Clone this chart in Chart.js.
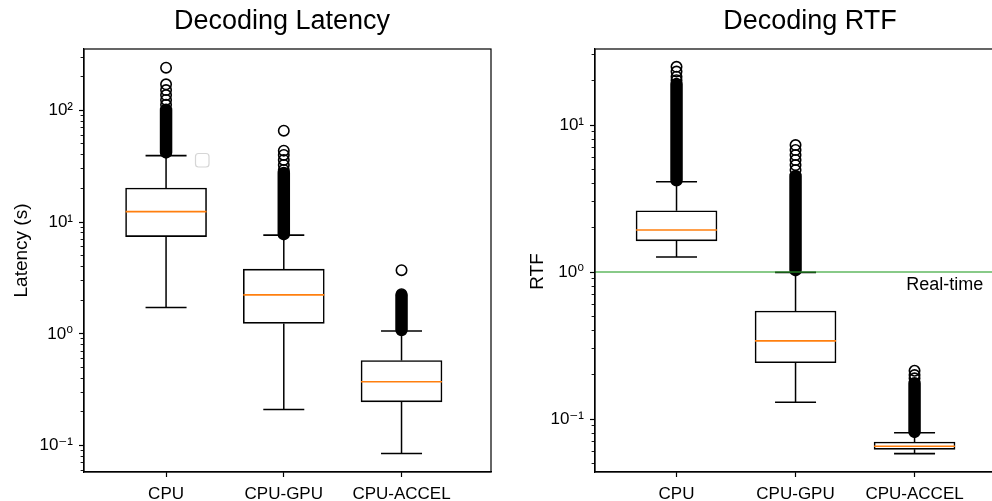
<!DOCTYPE html>
<html>
<head>
<meta charset="utf-8">
<title>Decoding latency and RTF</title>
<script src="https://cdn.jsdelivr.net/npm/chart.js@4.4.1/dist/chart.umd.min.js"></script>
<style>
  html, body { margin: 0; padding: 0; background: #fff; }
  body { position: relative; width: 992px; height: 501px; overflow: hidden; }
  canvas { position: absolute; top: 0; }
  #latency { left: 0; }
  #rtf { left: 500px; }
</style>
</head>
<body>
<canvas id="latency" width="564" height="501"></canvas>
<canvas id="rtf" width="620" height="501"></canvas>
<script>
const categories = ['CPU', 'CPU-GPU', 'CPU-ACCEL'];

// Decoding latency (s), box stats per platform
const latLowWhisker = [1.72, 0.21, 0.085];
const latQ1 = [7.42, 1.24, 0.246];
const latMedian = [12.4, 2.23, 0.372];
const latQ3 = [20.2, 3.79, 0.577];
const latHighWhisker = [39.3, 7.64, 1.06];
// fliers packed so tightly they merge into one solid column [lowest, highest]
const latFlierRun = [[42.0, 101], [7.8, 27.5], [1.08, 2.2]];
// fliers that still show up as separate rings
const latFliers = [
  [112, 124, 137, 152, 171, 241],
  [29.3, 32.5, 36.0, 39.9, 43.6, 65.8],
  [2.26, 3.71]
];
const latTickExps = [-1, 0, 1, 2];
const latTickLabels = ['10⁻¹', '10⁰', '10¹', '10²'];

// Decoding real-time factor
const rtfLowWhisker = [1.265, 0.130, 0.0581];
const rtfQ1 = [1.63, 0.2415, 0.0622];
const rtfMedian = [1.93, 0.340, 0.0652];
const rtfQ3 = [2.61, 0.543, 0.0698];
const rtfHighWhisker = [4.11, 0.995, 0.0807];
const rtfFlierRun = [[4.21, 19.0], [1.03, 4.5], [0.0817, 0.175]];
const rtfFliers = [
  [20.2, 21.3, 23.1, 24.9],
  [4.94, 5.34, 5.78, 6.25, 6.76, 7.31],
  [0.189, 0.199, 0.213]
];
const rtfTickExps = [-1, 0, 1];
const rtfTickLabels = ['10⁻¹', '10⁰', '10¹'];

const realTime = 1.0;
const realTimeLabel = 'Real-time';

Chart.defaults.font.family = '"Liberation Sans", Arial, "DejaVu Sans", sans-serif';
Chart.defaults.color = '#000';

function isDecade(v) {
  const l = Math.log10(v);
  return Math.abs(l - Math.round(l)) < 1e-9;
}

// major ticks at the decades, minor ticks at 2..9 x 10^n
function logTicks(exps, min, max) {
  const out = [];
  for (let e = exps[0] - 1; e <= exps[exps.length - 1] + 1; e++) {
    for (let m = 1; m <= 9; m++) {
      const v = m * Math.pow(10, e);
      if (v >= min && v <= max) out.push({ value: v, major: m === 1 });
    }
  }
  return out;
}

function decadeLabel(exps, labels, v) {
  if (!isDecade(v)) return '';
  const i = exps.indexOf(Math.round(Math.log10(v)));
  return i >= 0 ? labels[i] : '';
}

// closed frame round the plot area
const framePlugin = {
  id: 'frame',
  afterDraw(chart) {
    const { ctx, chartArea: a } = chart;
    ctx.save();
    ctx.strokeStyle = '#000';
    ctx.lineWidth = 1.2;
    ctx.strokeRect(a.left, a.top, a.right - a.left, a.bottom - a.top);
    ctx.restore();
  }
};

// rotated y axis caption
function yLabelPlugin(text, x, dy) {
  return {
    id: 'yLabel',
    afterDraw(chart) {
      const { ctx, chartArea: a } = chart;
      ctx.save();
      ctx.font = '19px "Liberation Sans", Arial, sans-serif';
      ctx.fillStyle = '#000';
      ctx.textAlign = 'center';
      ctx.textBaseline = 'middle';
      ctx.translate(x, (a.top + a.bottom) / 2 + dy);
      ctx.rotate(-Math.PI / 2);
      ctx.fillText(text, 0, 0);
      ctx.restore();
    }
  };
}

function drawBoxChart(canvasId, s) {
  const xs = categories.map((c, i) => i + 1);

  const whiskers = [];
  const caps = [];
  const runs = [];
  const rings = [];
  xs.forEach((x, i) => {
    whiskers.push({ x, y: s.q3[i] }, { x, y: s.hi[i] }, { x, y: null },
                  { x, y: s.q1[i] }, { x, y: s.lo[i] }, { x, y: null });
    caps.push({ x, y: s.lo[i] }, { x, y: s.hi[i] });
    runs.push({ x, y: s.run[i][0] }, { x, y: s.run[i][1] }, { x, y: null });
    s.fliers[i].forEach(v => rings.push({ x, y: v }));
  });

  const datasets = [
    {
      type: 'bar',
      data: xs.map((x, i) => ({ x, y: [s.q1[i], s.q3[i]] })),
      backgroundColor: '#fff',
      borderColor: '#000',
      borderWidth: 1.6,
      borderSkipped: false,
      barThickness: 81,
      grouped: false,
      order: 6
    },
    {
      type: 'line',
      data: whiskers,
      borderColor: '#000',
      borderWidth: 1.5,
      pointRadius: 0,
      spanGaps: false,
      order: 5
    },
    {
      type: 'scatter',
      data: caps,
      pointStyle: 'line',
      pointRadius: 20.5,
      pointBorderColor: '#000',
      pointBorderWidth: 1.6,
      order: 4
    },
    {
      type: 'line',
      data: runs,
      borderColor: '#000',
      borderWidth: 12.5,
      borderCapStyle: 'round',
      pointRadius: 0,
      spanGaps: false,
      order: 3
    },
    {
      type: 'scatter',
      data: rings,
      pointStyle: 'circle',
      pointRadius: 5.2,
      pointBorderColor: '#000',
      pointBorderWidth: 1.6,
      pointBackgroundColor: 'rgba(0,0,0,0)',
      order: 2
    },
    {
      type: 'scatter',
      data: xs.map((x, i) => ({ x, y: s.median[i] })),
      pointStyle: 'line',
      pointRadius: 40.5,
      pointBorderColor: '#ff7f0e',
      pointBorderWidth: 1.6,
      order: 1
    }
  ];

  if (s.refLine) {
    datasets.push({
      type: 'line',
      data: [{ x: s.xMin, y: s.refLine }, { x: s.xMax, y: s.refLine }],
      borderColor: 'rgba(44,160,44,0.75)',
      borderWidth: 1.6,
      pointRadius: 0,
      order: 0
    });
  }

  const minorTick = ctx => !isDecade(ctx.tick.value);

  return new Chart(document.getElementById(canvasId), {
    type: 'scatter',
    data: { datasets },
    plugins: [framePlugin, yLabelPlugin(s.yLabel, s.yLabelX, s.yLabelDy), ...(s.extraPlugins || [])],
    options: {
      responsive: false,
      animation: false,
      events: [],
      layout: { padding: 0, autoPadding: false },
      plugins: {
        legend: { display: false },
        tooltip: { enabled: false },
        title: {
          display: true,
          text: s.title,
          font: { size: 27, weight: 'normal' },
          color: '#000',
          padding: { top: 5, bottom: 11.6 }
        }
      },
      scales: {
        x: {
          type: 'linear',
          min: s.xMin,
          max: s.xMax,
          offset: false,
          afterBuildTicks: sc => { sc.ticks = xs.map(v => ({ value: v })); },
          afterFit: sc => { sc.height = 29; },
          ticks: {
            callback: v => categories[v - 1] || '',
            font: { size: 17 },
            color: '#000',
            padding: 7,
            maxRotation: 0,
            autoSkip: false
          },
          grid: {
            display: true,
            offset: false,
            drawOnChartArea: false,
            drawTicks: true,
            tickLength: 5,
            tickColor: '#000',
            tickWidth: 1.2
          },
          border: { display: true, color: '#000', width: 1.2 }
        },
        y: {
          type: 'logarithmic',
          position: 'left',
          min: s.yMin,
          max: s.yMax,
          afterBuildTicks: sc => { sc.ticks = logTicks(s.tickExps, s.yMin, s.yMax); },
          afterFit: sc => { sc.width = s.yWidth; },
          ticks: {
            callback: v => decadeLabel(s.tickExps, s.tickLabels, v),
            font: { size: 17 },
            color: '#000',
            padding: 6,
            autoSkip: false
          },
          grid: {
            display: true,
            offset: false,
            drawOnChartArea: false,
            drawTicks: true,
            tickLength: 5,
            tickColor: '#000',
            tickWidth: ctx => minorTick(ctx) ? 0.9 : 1.2,
            tickBorderDash: ctx => minorTick(ctx) ? [3, 100] : [],
            tickBorderDashOffset: ctx => minorTick(ctx) ? 101.4 : 0
          },
          border: { display: true, color: '#000', width: 1.2 }
        },
        // keeps space on the right so the title centres over the plot
        spacer: {
          type: 'linear',
          position: 'right',
          display: true,
          afterFit: sc => { sc.width = s.spacer; },
          ticks: { display: false },
          grid: { display: false, drawTicks: false },
          border: { display: false }
        }
      }
    }
  });
}

// empty legend frame left in the latency panel
const emptyLegendPlugin = {
  id: 'emptyLegend',
  afterDraw(chart) {
    const { ctx, chartArea: a } = chart;
    ctx.save();
    ctx.fillStyle = 'rgba(255,255,255,0.8)';
    ctx.strokeStyle = '#d6d6d6';
    ctx.lineWidth = 1.2;
    ctx.beginPath();
    ctx.roundRect(a.left + 111.5, a.top + 104.5, 13.5, 13.5, 3);
    ctx.fill();
    ctx.stroke();
    ctx.restore();
  }
};

const realTimeTextPlugin = {
  id: 'realTimeText',
  afterDatasetsDraw(chart) {
    const { ctx, scales } = chart;
    ctx.save();
    ctx.font = '18px "Liberation Sans", Arial, sans-serif';
    ctx.fillStyle = '#000';
    ctx.textBaseline = 'alphabetic';
    ctx.textAlign = 'left';
    ctx.fillText(realTimeLabel, scales.x.getPixelForValue(2.93),
                 scales.y.getPixelForValue(realTime) + 18);
    ctx.restore();
  }
};

drawBoxChart('latency', {
  title: 'Decoding Latency',
  yLabel: 'Latency (s)',
  lo: latLowWhisker, q1: latQ1, median: latMedian, q3: latQ3, hi: latHighWhisker,
  run: latFlierRun, fliers: latFliers,
  tickExps: latTickExps, tickLabels: latTickLabels,
  yMin: 0.058, yMax: 354,
  xMin: 0.303, xMax: 3.76,
  yWidth: 84, spacer: 73,
  yLabelX: 22, yLabelDy: -10,
  extraPlugins: [emptyLegendPlugin]
});

drawBoxChart('rtf', {
  title: 'Decoding RTF',
  yLabel: 'RTF',
  lo: rtfLowWhisker, q1: rtfQ1, median: rtfMedian, q3: rtfQ3, hi: rtfHighWhisker,
  run: rtfFlierRun, fliers: rtfFliers,
  tickExps: rtfTickExps, tickLabels: rtfTickLabels,
  yMin: 0.0436, yMax: 32.9,
  xMin: 0.315, xMax: 3.928,
  yWidth: 95, spacer: 95,
  yLabelX: 38, yLabelDy: 11,
  refLine: realTime,
  extraPlugins: [realTimeTextPlugin]
});
</script>
</body>
</html>
